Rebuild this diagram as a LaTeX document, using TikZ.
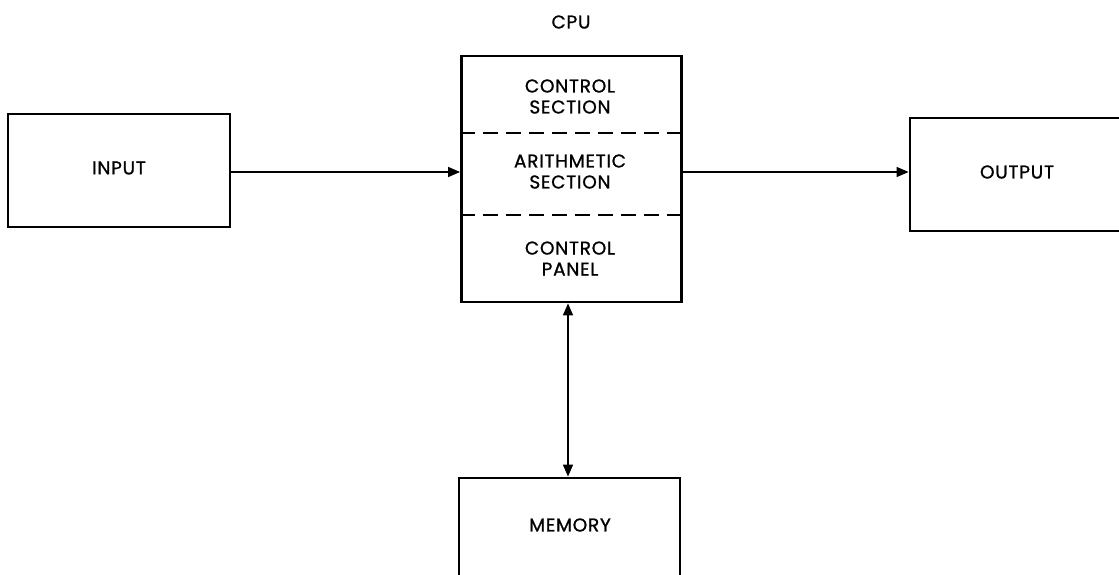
\documentclass[tikz,border=0pt]{standalone}
\usepackage{fontspec}
\setmainfont{Poppins}
\newfontfamily\blockfont[LetterSpace=4, FakeBold=1]{Poppins}
\usetikzlibrary{arrows.meta}

\tikzset{
  block/.style={draw, line width=2.8pt, minimum width=#1, inner sep=0pt},
  lbl/.style={align=center, font=\blockfont\fontsize{18.5}{21}\selectfont, inner sep=0pt},
  arr/.style={line width=1.4pt, -{Triangle[length=12pt,width=10pt]}},
  darr/.style={line width=1.4pt, {Triangle[length=12pt,width=10pt]}-{Triangle[length=12pt,width=10pt]}},
  divider/.style={line width=1.5pt, dash pattern=on 15pt off 8pt}
}

\begin{document}
\begin{tikzpicture}[x=1pt, y=-1pt]
  \useasboundingbox (0,0) rectangle (1119,575);
  \clip (0,0) rectangle (1119,575);

  % boxes
  \node[block=222pt, minimum height=113pt] (in)  at (119,170.5) {};
  \node[block=220pt, minimum height=246pt] (cpu) at (571.5,179) {};
  \node[block=222pt, minimum height=113pt] (out) at (1021,174.5) {};
  \node[block=221pt, minimum height=102pt] (mem) at (569.5,529) {};

  % dividers inside the CPU
  \draw[divider] (cpu.west |- 0,133) coordinate (d1) -- (d1 -| cpu.east);
  \draw[divider] (cpu.west |- 0,215) coordinate (d2) -- (d2 -| cpu.east);

  % labels
  \node[lbl] (cputitle) at (571,22) {CPU};
  \node[lbl] (inl)  at (119,168) {INPUT};
  \node[lbl] (outl) at (1017,172) {OUTPUT};
  \node[lbl] (meml) at (570,525) {MEMORY};
  \node[lbl] (ctl)  at (570,96.5) {CONTROL\\SECTION};
  \node[lbl] (ari)  at (570,171.5) {ARITHMETIC\\SECTION};
  \node[lbl] (pan)  at (570,258.5) {CONTROL\\PANEL};

  % connectors
  \draw[arr] (in.east) ++(0,1.5) coordinate (a1) -- (a1 -| cpu.west);
  \draw[arr] (cpu.east |- a1) -- (out.west |- a1);
  \draw[darr] ([xshift=-3.5pt]cpu.south) coordinate (b1) -- (b1 |- mem.north);
\end{tikzpicture}
\end{document}
